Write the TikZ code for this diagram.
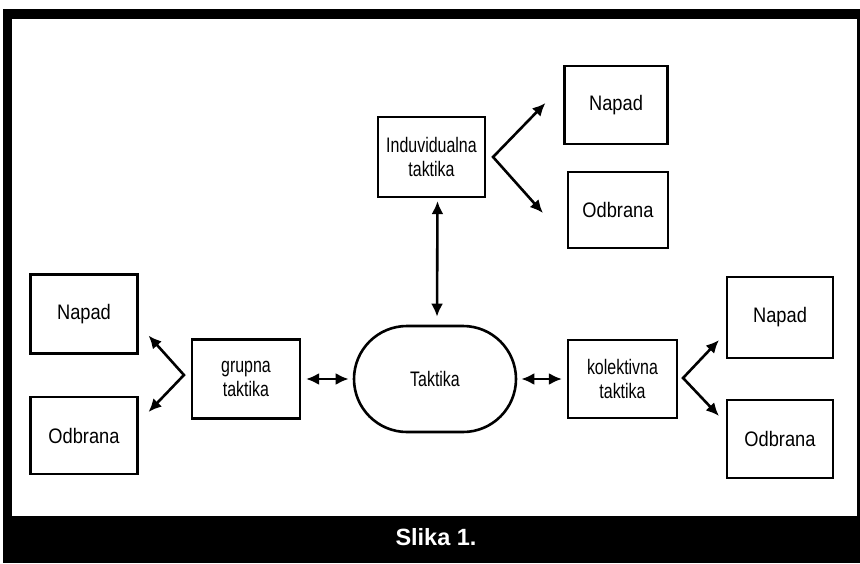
\documentclass[tikz,border=0pt]{standalone}
\usepackage{fontspec}
\setmainfont{Liberation Sans}
\newfontfamily\uskifont[FakeStretch=0.76]{Liberation Sans}
\newfontfamily\sirokifont[FakeStretch=0.87]{Liberation Sans}
\usetikzlibrary{arrows.meta}
\begin{document}
\begin{tikzpicture}[x=1pt,y=-1pt,
  blok/.style={draw,line width=2.1pt,minimum width=106pt,minimum height=78pt,inner sep=0pt,align=center},
  usko/.style={font=\uskifont\fontsize{21pt}{24pt}\selectfont},
  siroko/.style={font=\sirokifont\fontsize{21pt}{24pt}\selectfont},
  vez/.style={line width=2.6pt,{Latex[length=13pt,width=12pt]}-{Latex[length=13pt,width=12pt]}}]
\useasboundingbox (0,0) rectangle (860,563);
% okvir
\fill (3,9) rectangle (860,563);
\fill[white] (12,19) rectangle (857,516);
\node[text=white,font=\bfseries\fontsize{23.5pt}{26pt}\selectfont] (slika) at (436,537) {Slika 1.};
% cvorovi
\node[draw,line width=2.6pt,rounded corners=53pt,minimum width=162pt,minimum height=106pt,usko] (tak) at (435,379) {Taktika};
\node[blok,usko,minimum width=107pt,minimum height=80pt] (ind) at (431.5,157) {Induvidualna\\taktika};
\node[blok,usko,minimum width=108pt,minimum height=79pt] (grp) at (246,379) {grupna\\taktika};
\node[blok,usko,minimum width=109pt] (kol) at (622.5,379) {kolektivna\\taktika};
\node[blok,siroko,minimum width=103pt] (np1) at (616,105) {Napad};
\node[blok,siroko,minimum width=100pt,minimum height=76pt] (ob1) at (618,210) {Odbrana};
\node[blok,siroko,minimum width=107pt,minimum height=79pt] (np2) at (84,314) {Napad};
\node[blok,siroko,minimum width=107pt,minimum height=77pt] (ob2) at (84,435.5) {Odbrana};
\node[blok,siroko,minimum height=81pt] (np3) at (780,317.5) {Napad};
\node[blok,siroko] (ob3) at (780,439) {Odbrana};
% vrhovi strelica
\coordinate (vi) at ([xshift=7pt]ind.east);
\coordinate (vg) at ([shift={(-7pt,4pt)}]grp.west);
\coordinate (vk) at ([shift={(5pt,1pt)}]kol.east);
% veze
\draw[vez] ([shift={(-18pt,2pt)}]np1.west) -- (vi) -- ([shift={(-24pt,-3pt)}]ob1.west);
\draw[vez] ([shift={(10pt,19pt)}]np2.south east) -- (vg) -- ([shift={(10pt,-16pt)}]ob2.north east);
\draw[vez] ([shift={(-7pt,19pt)}]np3.south west) -- (vk) -- ([shift={(-7pt,-17pt)}]ob3.north west);
\draw[vez] ([xshift=5pt]grp.east) -- ([xshift=-4pt]tak.west);
\draw[vez] ([xshift=4pt]tak.east) -- ([xshift=-5pt]kol.west);
\draw[vez] ([shift={(6pt,-3pt)}]ind.south) -- ([shift={(2pt,8pt)}]tak.north);
\end{tikzpicture}
\end{document}
